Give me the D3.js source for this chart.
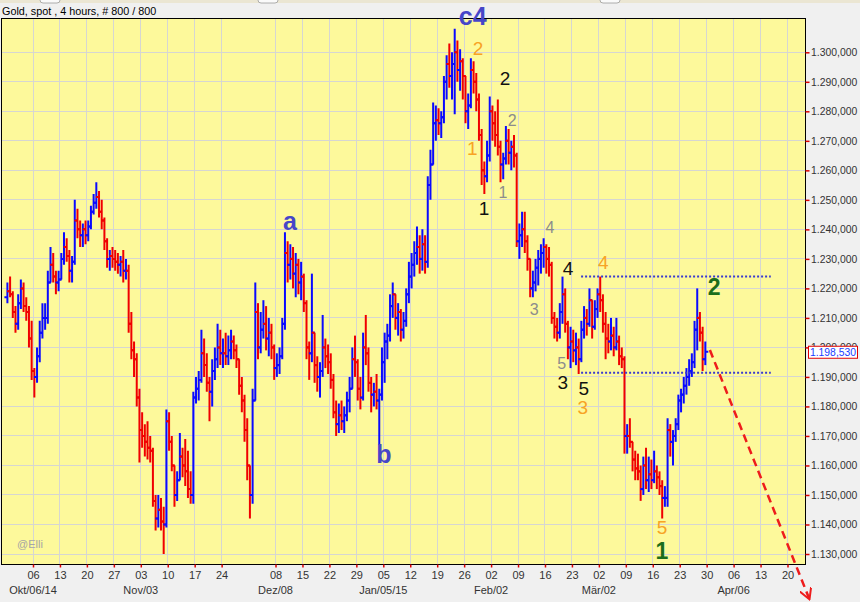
<!DOCTYPE html>
<html><head><meta charset="utf-8">
<script src="https://cdn.jsdelivr.net/npm/d3@7"></script>
<style>
body{margin:0;background:#f0f0f0;}
svg{display:block;font-family:"Liberation Sans",Arial,sans-serif;}
</style>
</head><body>
<svg id="chart" width="860" height="602"></svg>
<script>
// ---------------- DATA ----------------
const title = "Gold, spot , 4 hours, # 800 / 800";
const firstOpen = 1217;
// two bars per trading day, Mon 29 Sep 2014 .. Fri 27 Mar 2015 (one line = one week)
const hi = [
1222,1224,1219,1214,1218,1223,1222,1217,1214,1209,
1193,1200,1209,1215,1215,1226,1234,1232,1226,1226,
1232,1239,1237,1233,1231,1250,1247,1243,1242,1243,
1243,1248,1252,1256,1253,1250,1244,1237,1233,1234,
1233,1232,1231,1233,1230,1228,1212,1202,1198,1186,
1178,1174,1175,1170,1166,1150,1150,1149,1146,1179,
1178,1170,1160,1158,1171,1166,1169,1165,1158,1185,
1190,1192,1206,1203,1198,1190,1196,1200,1208,1206,
1203,1205,1204,1206,1204,1201,1196,1190,1184,1176,
1160,1186,1222,1215,1212,1216,1214,1210,1208,1201,
1198,1200,1210,1239,1236,1235,1234,1232,1230,1229,
1225,1216,1202,1225,1204,1197,1195,1211,1203,1201,
1198,1191,1182,1181,1182,1180,1185,1190,1200,1204,
1196,1190,1205,1211,1200,1190,1188,1191,1186,1200,
1205,1208,1218,1222,1217,1215,1213,1212,1220,1229,
1232,1236,1241,1238,1240,1238,1258,1267,1283,1282,
1281,1280,1292,1299,1303,1300,1308,1304,1301,1298,
1290,1286,1298,1297,1293,1286,1274,1263,1270,1285,
1282,1280,1284,1270,1266,1275,1274,1270,1272,1266,
1242,1246,1246,1238,1228,1226,1230,1233,1235,1237,
1235,1234,1229,1212,1210,1215,1224,1220,1209,1207,
1206,1205,1203,1209,1214,1213,1220,1214,1216,1220,
1224,1218,1212,1208,1210,1207,1210,1204,1200,1197,
1174,1176,1168,1165,1164,1160,1163,1166,1163,1162,
1165,1160,1158,1155,1153,1176,1174,1172,1176,1184,
1186,1190,1193,1196,1198,1209,1220,1212,1207,1202];
const lo = [
1215,1217,1210,1205,1206,1213,1212,1209,1200,1189,
1183,1188,1195,1203,1206,1208,1222,1222,1218,1219,
1224,1228,1229,1222,1222,1228,1237,1234,1234,1235,
1236,1240,1245,1247,1244,1240,1233,1227,1226,1227,
1226,1225,1224,1222,1223,1205,1196,1190,1180,1161,
1166,1163,1162,1161,1146,1138,1139,1138,1130,1139,
1165,1158,1146,1148,1155,1156,1153,1149,1147,1147,
1181,1182,1188,1190,1185,1175,1180,1189,1193,1194,
1193,1194,1194,1196,1196,1193,1184,1178,1168,1155,
1142,1147,1182,1196,1198,1203,1199,1197,1196,1189,
1190,1191,1196,1206,1222,1223,1220,1217,1218,1216,
1212,1196,1189,1195,1188,1185,1183,1190,1193,1191,
1186,1176,1170,1171,1172,1171,1175,1178,1186,1190,
1182,1179,1182,1194,1185,1178,1180,1179,1167,1182,
1188,1196,1202,1210,1206,1204,1202,1203,1207,1215,
1220,1224,1228,1225,1226,1225,1227,1250,1264,1270,
1272,1271,1276,1284,1288,1284,1279,1290,1287,1284,
1276,1274,1281,1286,1280,1270,1255,1252,1256,1263,
1270,1268,1265,1256,1257,1262,1262,1260,1261,1234,
1230,1234,1232,1226,1217,1217,1219,1221,1225,1227,
1225,1224,1208,1203,1202,1203,1208,1205,1196,1193,
1195,1194,1191,1195,1203,1204,1207,1203,1206,1210,
1212,1205,1196,1198,1199,1197,1199,1194,1193,1164,
1164,1166,1158,1155,1155,1148,1150,1152,1151,1152,
1154,1152,1150,1142,1146,1146,1163,1160,1168,1172,
1178,1181,1184,1187,1190,1193,1199,1202,1192,1194];
const cl = [
1219,1218,1212,1208,1215,1220,1214,1212,1203,1192,
1190,1197,1205,1210,1210,1222,1228,1224,1222,1223,
1230,1234,1231,1226,1229,1243,1240,1238,1240,1238,
1241,1246,1249,1251,1246,1243,1236,1230,1231,1230,
1229,1228,1229,1226,1226,1208,1199,1196,1183,1172,
1170,1168,1166,1165,1148,1142,1145,1141,1140,1175,
1168,1160,1150,1155,1163,1160,1158,1152,1150,1183,
1186,1189,1198,1194,1188,1185,1192,1196,1200,1198,
1198,1197,1199,1202,1199,1196,1187,1182,1172,1160,
1150,1182,1212,1200,1206,1208,1203,1205,1200,1193,
1194,1197,1208,1232,1228,1230,1225,1228,1222,1224,
1215,1200,1198,1205,1194,1190,1192,1200,1197,1195,
1189,1178,1174,1177,1175,1177,1182,1186,1196,1195,
1186,1183,1200,1198,1188,1184,1185,1182,1184,1195,
1202,1204,1214,1218,1210,1212,1206,1209,1218,1224,
1228,1232,1234,1230,1235,1229,1255,1262,1276,1277,
1276,1278,1290,1296,1292,1296,1300,1294,1297,1292,
1280,1282,1294,1290,1284,1272,1260,1258,1265,1280,
1276,1272,1268,1262,1264,1270,1266,1268,1265,1236,
1238,1240,1236,1230,1220,1222,1227,1230,1232,1234,
1230,1228,1210,1207,1205,1212,1218,1208,1200,1202,
1199,1200,1196,1206,1210,1208,1216,1207,1213,1218,
1216,1208,1203,1202,1204,1200,1202,1197,1196,1170,
1170,1168,1162,1159,1158,1152,1160,1155,1157,1155,
1158,1156,1153,1149,1149,1172,1168,1170,1174,1182,
1184,1187,1190,1192,1195,1206,1210,1205,1196,1198.53];

// weekly x ticks (Mondays, week 1 = 06 Oct 2014); the 01 Dec tick is not labelled
const xTickLabels = ["06","13","20","27","03","10","17","24",null,"08","15","22","29",
  "05","12","19","26","02","09","16","23","02","09","16","23","30","06","13","20"];
const monthLabels = ["Okt/06/14","Nov/03","Dez/08","Jan/05/15","Feb/02","Mär/02","Apr/06"];
const monthLabelWeeks = [1,5,10,14,18,22,27];
const yTickValues = [1130,1140,1150,1160,1170,1180,1190,1200,1210,1220,1230,1240,1250,1260,1270,1280,1290,1300];
const lastPrice = 1198.53;

// Elliott wave annotations (trading-day index, price)
const waveText   = ["c4","2","2","2","1","1","1","4","3","4","4","2","5","3","5","3","5","1","a","b"];
const waveDegree = ["major","minute","minor","micro","minute","micro","minor","micro","micro","minor","minute","inter","micro","minor","minor","minute","minute","inter","major","major"];
const waveDay    = [86.6,87.6,92.6,93.9,86.5,92.2,88.7,100.9,98.0,104.3,110.8,131.4,103.1,103.3,107.2,107.0,121.7,121.7,52.7,70.1];
const wavePrice  = [1309.3,1299.1,1288.9,1275.0,1265.2,1250.6,1244.9,1238.8,1211.0,1224.5,1226.6,1217.8,1192.6,1185.9,1183.9,1177.6,1136.8,1128.3,1239.8,1160.8];

// horizontal levels and projection
const levelPrices = [1224.0, 1191.4];
const levelDays = [106.7, 141.9];
const projDays = [130.6, 149.0];
const projPrices = [1199.1, 1115.0];

// ---------------- DRAW ----------------
const svg = d3.select("#chart");
const W = 860, H = 602;
const P = {left: 1.5, right: 805.5, top: 18.5, bottom: 564.5};

const x = d3.scaleLinear().domain([5, 145]).range([33, 787.5]);
const y = d3.scaleLinear().domain([1130, 1300]).range([554, 52.3]);

const locale = d3.formatLocale({decimal: ",", thousands: ".", grouping: [3], currency: ["", ""]});
const fmt = locale.format(",.3f");
const FONT = "Liberation Sans, Arial, sans-serif";

// background
svg.append("rect").attr("width", W).attr("height", H).attr("fill", "#f0f0f0");
svg.append("rect").attr("x", 0).attr("y", 0).attr("width", W).attr("height", 3).attr("fill", "#ebe6d3");
[[40, 20], [258, 20], [600, 20]].forEach(([bx, bw]) =>
  svg.append("rect").attr("x", bx).attr("y", -4).attr("width", bw).attr("height", 7)
    .attr("rx", 3).attr("fill", "#fafafa").attr("stroke", "#9a9a9a").attr("stroke-width", 0.8));

svg.append("text").attr("x", 2).attr("y", 15).attr("font-size", 10.8).attr("fill", "#000").text(title);

svg.append("rect").attr("x", P.left).attr("y", P.top)
  .attr("width", P.right - P.left).attr("height", P.bottom - P.top).attr("fill", "#fdf99b");

// grid
const grid = svg.append("g").attr("stroke", "#d6d6d2").attr("stroke-width", 1).attr("shape-rendering", "crispEdges");
grid.selectAll(".hg").data(yTickValues).join("line")
  .attr("x1", P.left).attr("x2", P.right).attr("y1", d => y(d)).attr("y2", d => y(d));
const tickWeeks = xTickLabels.map((l, i) => l === null ? null : i + 1).filter(v => v !== null);
grid.selectAll(".vg").data(tickWeeks).join("line")
  .attr("x1", d => x(d * 5)).attr("x2", d => x(d * 5)).attr("y1", P.top).attr("y2", P.bottom);

// clip for price data
svg.append("clipPath").attr("id", "plotclip").append("rect")
  .attr("x", P.left).attr("y", P.top).attr("width", P.right - P.left).attr("height", P.bottom - P.top);

// bars
const bars = d3.range(cl.length).map(j => {
  const open = j === 0 ? firstOpen : cl[j - 1];
  const c = cl[j];
  return {pos: Math.floor(j / 2) + 0.25 + 0.5 * (j % 2), open, close: c,
          high: Math.max(hi[j], open, c), low: Math.min(lo[j], open, c)};
});
const gb = svg.append("g").attr("clip-path", "url(#plotclip)").attr("stroke-width", 2);
bars.forEach(b => {
  const col = b.close >= b.open ? "#0a0aff" : "#f00000";
  const cx = x(b.pos);
  gb.append("line").attr("x1", cx).attr("x2", cx).attr("y1", y(b.low)).attr("y2", y(b.high)).attr("stroke", col);
  gb.append("line").attr("x1", cx - 3).attr("x2", cx).attr("y1", y(b.open)).attr("y2", y(b.open)).attr("stroke", col);
  gb.append("line").attr("x1", cx).attr("x2", cx + 3).attr("y1", y(b.close)).attr("y2", y(b.close)).attr("stroke", col);
});

// dotted levels
svg.append("g").selectAll("line").data(levelPrices).join("line")
  .attr("x1", x(levelDays[0])).attr("x2", x(levelDays[1]))
  .attr("y1", d => y(d)).attr("y2", d => y(d))
  .attr("stroke", "#3a3ad0").attr("stroke-width", 2).attr("stroke-dasharray", "2,2");

// frame
svg.append("rect").attr("x", P.left).attr("y", P.top)
  .attr("width", P.right - P.left).attr("height", P.bottom - P.top)
  .attr("fill", "none").attr("stroke", "#000").attr("stroke-width", 1);

// right axis
const ya = svg.append("g").attr("transform", `translate(${P.right},0)`)
  .call(d3.axisRight(y).tickValues(yTickValues).tickSize(4).tickPadding(1.5).tickFormat(fmt));
ya.select(".domain").remove();
ya.selectAll(".tick line").attr("stroke", "#e00000").attr("stroke-width", 1.5);
ya.selectAll(".tick text").attr("font-size", 10.4).attr("fill", "#333").attr("font-family", FONT);

// bottom axis
const xa = svg.append("g").attr("transform", `translate(0,${P.bottom})`)
  .call(d3.axisBottom(x).tickValues(tickWeeks.map(w => w * 5)).tickSize(3).tickPadding(4)
    .tickFormat(d => xTickLabels[d / 5 - 1]));
xa.select(".domain").remove();
xa.selectAll(".tick line").attr("stroke", "#e00000").attr("stroke-width", 1.5);
xa.selectAll(".tick text").attr("font-size", 11).attr("fill", "#333").attr("font-family", FONT);

svg.append("g").selectAll("text").data(monthLabels).join("text")
  .attr("x", (d, i) => x(monthLabelWeeks[i] * 5)).attr("y", 594)
  .attr("text-anchor", "middle").attr("font-size", 11).attr("fill", "#333").text(d => d);

// watermark
svg.append("text").attr("x", 17).attr("y", 548).attr("font-size", 11).attr("fill", "#a5a5a5").text("@Elli");

// wave labels
const degreeStyle = {
  major:  {fill: "#4646c8", size: 25, weight: "bold"},
  minute: {fill: "#f7a325", size: 19, weight: "normal"},
  minor:  {fill: "#111111", size: 19, weight: "normal"},
  micro:  {fill: "#8c8c8c", size: 16, weight: "normal"},
  inter:  {fill: "#1c6e1c", size: 23, weight: "bold"}
};
svg.append("g").selectAll("text").data(waveText).join("text")
  .attr("x", (d, i) => x(waveDay[i])).attr("y", (d, i) => y(wavePrice[i]))
  .attr("text-anchor", "middle")
  .attr("fill", (d, i) => degreeStyle[waveDegree[i]].fill)
  .attr("font-size", (d, i) => degreeStyle[waveDegree[i]].size)
  .attr("font-weight", (d, i) => degreeStyle[waveDegree[i]].weight)
  .text(d => d);

// projection arrow
svg.append("defs").append("marker").attr("id", "arr").attr("viewBox", "0 0 10 10")
  .attr("refX", 8).attr("refY", 5).attr("markerWidth", 5).attr("markerHeight", 5)
  .attr("orient", "auto").attr("markerUnits", "strokeWidth")
  .append("path").attr("d", "M0,0 L9,5 L0,10").attr("fill", "none").attr("stroke", "#ee1c1c").attr("stroke-width", 1.6);
svg.append("line")
  .attr("x1", x(projDays[0])).attr("y1", y(projPrices[0]))
  .attr("x2", x(projDays[1])).attr("y2", y(projPrices[1]))
  .attr("stroke", "#ee1c1c").attr("stroke-width", 2.5).attr("stroke-dasharray", "8,5")
  .attr("marker-end", "url(#arr)");

// last price box
const ly = y(lastPrice);
svg.append("rect").attr("x", 808.5).attr("y", ly - 5.5).attr("width", 49).attr("height", 12)
  .attr("fill", "#ffffff").attr("stroke", "#e00000").attr("stroke-width", 1);
svg.append("text").attr("x", 833).attr("y", ly + 4.3).attr("text-anchor", "middle")
  .attr("font-size", 10.4).attr("fill", "#1a3cff").text(fmt(lastPrice));
</script>
</body></html>
